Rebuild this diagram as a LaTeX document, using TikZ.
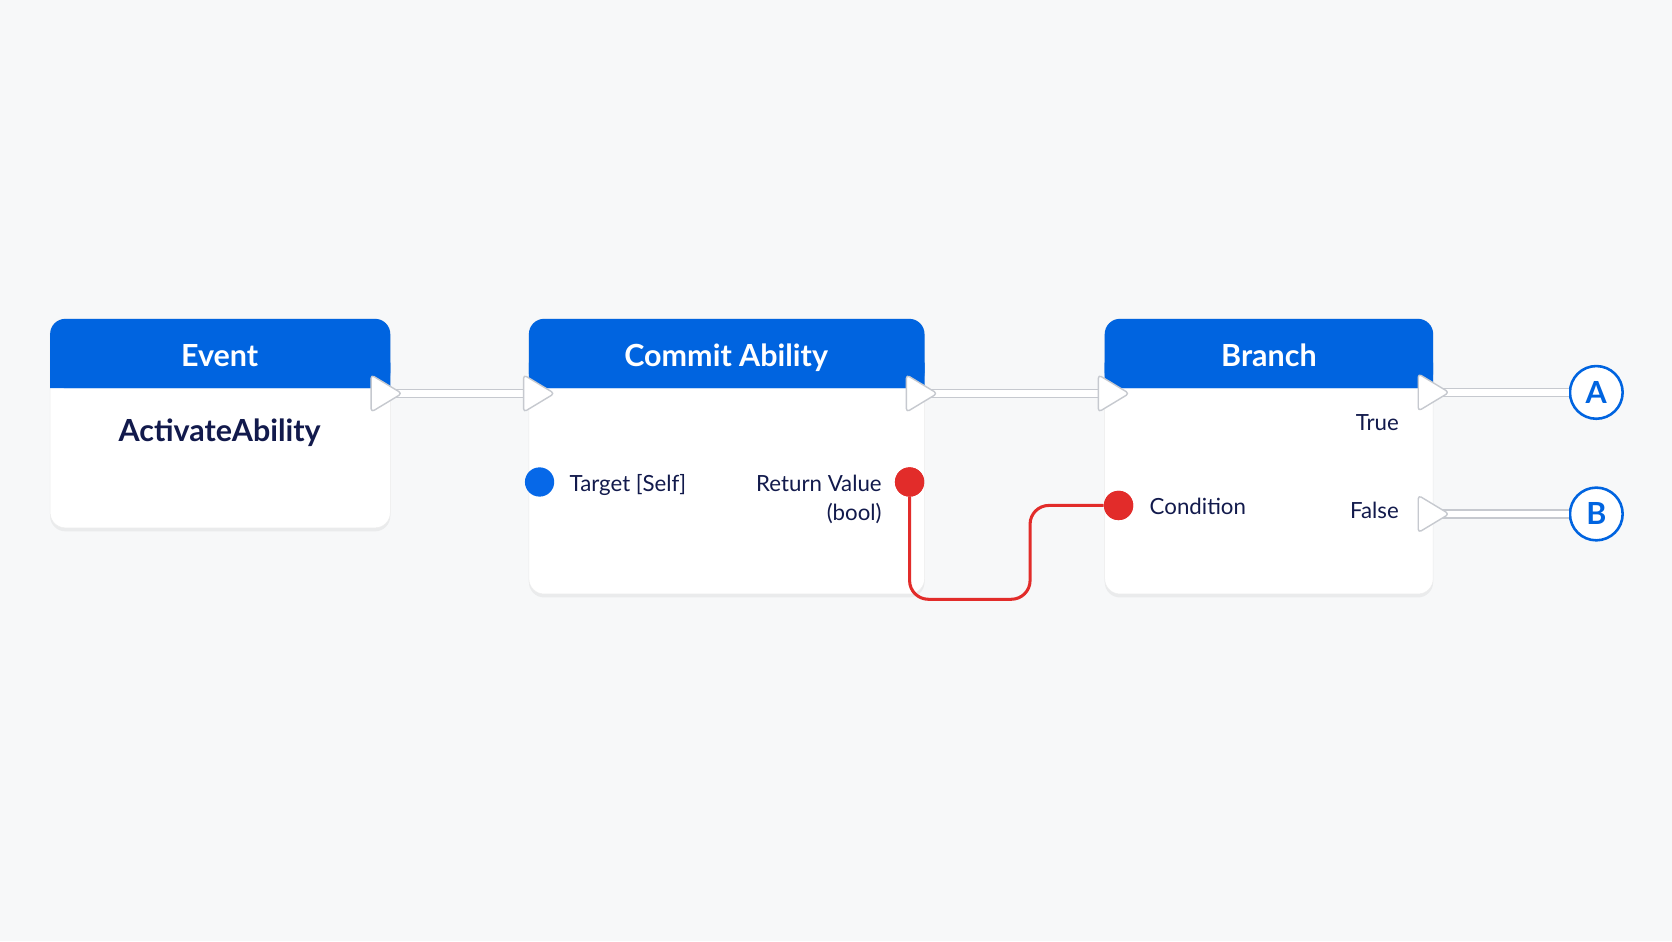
\documentclass[tikz,border=0pt]{standalone}
\usepackage{fontspec}
\setmainfont{Lato}
\usetikzlibrary{fit,shadows,calc}
\definecolor{hdrblue}{RGB}{0,100,224}
\definecolor{pinblue}{RGB}{6,104,232}
\definecolor{pinred}{RGB}{226,44,42}
\definecolor{navy}{RGB}{18,26,76}
\definecolor{pipegray}{RGB}{198,201,207}
\definecolor{bggray}{RGB}{247,248,249}
\newcommand{\execpin}[1]{\filldraw[execpin] ($(#1)+(-14,-17.5)$) -- ($(#1)+(15,0)$) -- ($(#1)+(-14,17.5)$) -- cycle;}
\begin{document}
\begin{tikzpicture}[x=0.032cm,y=-0.032cm,
  box/.style={fill=white,draw=black!7,rounded corners=13pt,inner sep=0pt,
    drop shadow={shadow xshift=0pt,shadow yshift=-3pt,opacity=.10}},
  hdr/.style={fill=hdrblue,rounded corners=13pt,inner sep=0pt},
  hdrtext/.style={text=white,font=\fontsize{26}{30}\selectfont\bfseries,anchor=base},
  pintext/.style={text=navy,font=\fontsize{19}{23}\selectfont,inner sep=0pt},
  pipe/.style={draw=pipegray,line width=1.2pt,double=white,double distance=5.5pt},
  execpin/.style={fill=white,draw=pipegray,line width=1.2pt,rounded corners=3pt,line join=round},
  datapin/.style={circle,minimum size=25pt,inner sep=0pt,fill=#1},
  wire/.style={draw=pinred,line width=2.6pt,rounded corners=16pt},
  refpin/.style={circle,draw=hdrblue,line width=2.2pt,fill=white,minimum size=45pt,inner sep=0pt,
    text=hdrblue,font=\fontsize{26}{30}\selectfont\bfseries}]
  \fill[bggray] (0,0) rectangle (1568,882.5);
  \useasboundingbox (0,0) rectangle (1568,882.5);

  \node[box,fit={(47,299) (366,495)}] (ev) {};
  \node[box,fit={(496,299) (867,557)}] (ca) {};
  \node[box,fit={(1036,299) (1344,557)}] (br) {};
  \node[hdr,fit={(47,299) (366,364)}] (evh) {};
  \node[hdr,fit={(496,299) (867,364)}] (cah) {};
  \node[hdr,fit={(1036,299) (1344,364)}] (brh) {};
  \fill[hdrblue] (47,340) rectangle (366,364) (496,340) rectangle (867,364) (1036,340) rectangle (1344,364);
  \node[hdrtext] (evt) at (206,344) {Event};
  \node[hdrtext] (cat) at (681,344) {Commit Ability};
  \node[hdrtext] (brt) at (1190,344) {Branch};
  \node[text=navy,font=\fontsize{26}{30}\selectfont\bfseries,anchor=base] (evname) at (206,414) {ActivateAbility};

  \coordinate (evout) at (362,369);
  \coordinate (cain) at (505,369);
  \coordinate (caout) at (864,369);
  \coordinate (brin) at (1044,369);
  \coordinate (brtrue) at (1344,368);
  \coordinate (brfalse) at (1344,482);
  \node[refpin] (A) at (1497,368) {A};
  \node[refpin] (B) at (1497,482) {B};
  \draw[pipe] (evout) -- (cain);
  \draw[pipe] (caout) -- (brin);
  \draw[pipe] (brtrue) -- (A);
  \draw[pipe] (brfalse) -- (B);
  \execpin{evout} \execpin{cain} \execpin{caout} \execpin{brin} \execpin{brtrue} \execpin{brfalse}

  \node[datapin=pinblue] (target) at (506,452) {};
  \node[datapin=pinred] (ret) at (853,452) {};
  \node[datapin=pinred] (cond) at (1049,474) {};
  \coordinate (bend) at (966,562);
  \draw[wire] (ret) |- (bend) |- (cond);
  \node[datapin=pinred] at (ret) {};
  \node[datapin=pinred] at (cond) {};

  \node[pintext,anchor=base west] (targett) at (534,460.5) {Target [Self]};
  \node[pintext,anchor=base east] (rett) at (827,460.5) {Return Value};
  \node[pintext,anchor=base east] (retb) at (827,488) {(bool)};
  \node[pintext,anchor=base west] (condt) at (1078,482.5) {Condition};
  \node[pintext,anchor=base east] (truet) at (1312,403.5) {True};
  \node[pintext,anchor=base east] (falset) at (1312,486.5) {False};
\end{tikzpicture}
\end{document}
